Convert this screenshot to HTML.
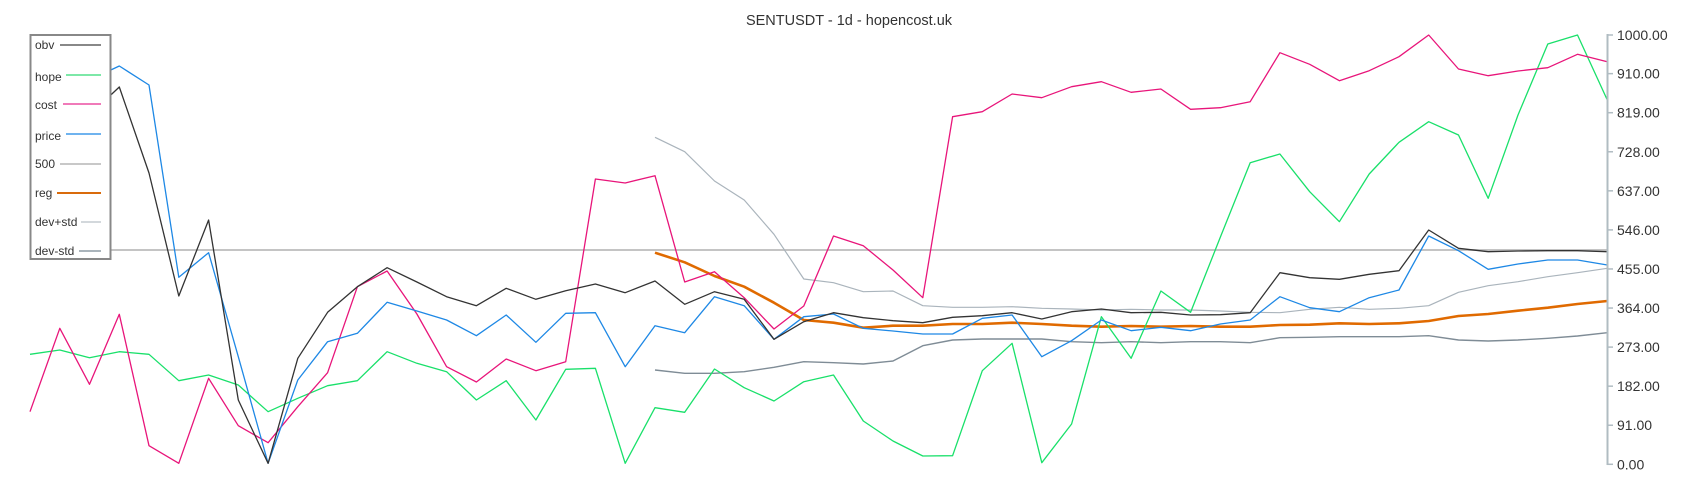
<!DOCTYPE html>
<html><head><meta charset="utf-8"><style>
html,body{margin:0;padding:0;background:#fff;}
svg{display:block;font-family:"Liberation Sans",sans-serif;}
</style></head><body>
<svg id="c" width="1700" height="500" viewBox="0 0 1700 500" xmlns="http://www.w3.org/2000/svg">
<rect width="1700" height="500" fill="#fff"/>
<text x="849" y="25" font-size="14.5" fill="#333" text-anchor="middle">SENTUSDT - 1d - hopencost.uk</text>
<line x1="30" y1="250" x2="1607" y2="250" stroke="#c4c4c4" stroke-width="2"/>
<g id="series"></g>
<g id="axis">
<line x1="1607.5" y1="34" x2="1607.5" y2="465" stroke="#b0bcc2" stroke-width="2"/>
</g>
<g id="legend">
<rect x="30.5" y="35" width="80" height="224" fill="#fff" stroke="#888" stroke-width="2"/>
<g font-size="12" fill="#333">
<text x="35" y="49">obv</text><line x1="60" y1="45" x2="101" y2="45" stroke="#888" stroke-width="2"/>
<text x="35" y="81">hope</text><line x1="66" y1="75" x2="101" y2="75" stroke="#7de8a8" stroke-width="2"/>
<text x="35" y="109">cost</text><line x1="63" y1="104" x2="101" y2="104" stroke="#f07ab9" stroke-width="2"/>
<text x="35" y="140">price</text><line x1="66" y1="134" x2="101" y2="134" stroke="#6fb3ef" stroke-width="2"/>
<text x="35" y="168">500</text><line x1="60" y1="164" x2="101" y2="164" stroke="#c8c8c8" stroke-width="2"/>
<text x="35" y="197">reg</text><line x1="57" y1="193" x2="101" y2="193" stroke="#d96b0c" stroke-width="2"/>
<text x="35" y="226">dev+std</text><line x1="81" y1="222" x2="101" y2="222" stroke="#d3d8dc" stroke-width="2"/>
<text x="35" y="255">dev-std</text><line x1="79" y1="251" x2="101" y2="251" stroke="#aab4bb" stroke-width="2"/>
</g>
</g>
</svg>
<script>
(function(){
var NS="http://www.w3.org/2000/svg";
function X(i){return 30+29.76*i;}
function poly(vals,start,color,w){
  var p=[];for(var k=0;k<vals.length;k++){p.push(X(start+k).toFixed(1)+","+vals[k]);}
  var e=document.createElementNS(NS,"polyline");
  e.setAttribute("points",p.join(" "));e.setAttribute("fill","none");
  e.setAttribute("stroke",color);e.setAttribute("stroke-width",w);
  e.setAttribute("stroke-linejoin","round");
  document.getElementById("series").appendChild(e);
}
var upper=[137.3,151.7,181,200,234.3,279,282.7,291.7,291,305.7,307.3,307.3,306.7,308.3,309,310,309.3,310,310,311,312.3,312.7,309.3,307.3,309.3,308.3,305.7,292.3,285.7,281.7,276.7,272.7,268.3];
var lower=[370,373.3,373.3,371.7,367.3,361.7,362.7,364,361,345.7,340,339,339,339,341.7,342.7,341.7,342.7,341.7,341.7,342.7,337.7,337.3,336.7,336.7,336.7,335.7,340,341,340,338.3,336,332.7];
var reg=[252.7,262.3,276,286.7,302.7,320,322.7,327.7,325.7,325.7,324,324,322.7,324,325.7,326.7,326,326.7,326,326.7,326.7,325,324.7,323.3,324,323.3,321,316,314,310.7,307.7,304,301];
var hope=[354.3,350,357.7,351.7,354.3,380.7,375,385,411.7,398.3,385.7,380.7,351.7,363.3,371.7,400,380.7,420,369.3,368.3,463.3,407.7,412.3,369,387.7,401,381.7,375,421,441,456,455.7,370.7,343.3,462.7,424,316.7,358.3,291,312.3,237,162.7,154,191.7,221.7,174,142.3,121.7,135,198.3,115,44,35,100];
var cost=[411.7,328.3,384.3,314.3,445.7,463.3,378.3,425.7,442.7,406.7,372.7,286.7,271,314,366.7,382,359,370.7,361.7,179,183,175.7,282,271.7,297.7,329,306,236,245.7,270,297.7,116.7,111.7,94,97.7,86.7,81.7,92.3,89,109.3,107.7,101.7,52.7,64.3,80.7,70.7,56.7,35,69,75.7,71,67.7,54.3,61.7];
var price=[100,90,80,66,85,277.3,252.7,356.7,463.3,380,341.7,333.3,302.3,311,320,335.7,315,342.3,313.3,312.7,366.7,325.7,332.7,296.7,305.7,339.3,316.7,314,328.3,331,334,334,318.3,315,356.7,340.7,320,330.7,327.3,330.7,324,320,296.7,307.7,311.7,297.7,290,236,250.7,269.3,264,260,260,265];
var obv=[150,130,115,87,173,296,220,400,463.3,358.3,312.3,286.7,267.7,282,296.7,305.7,288.3,299.3,290.7,284,292.7,281,304.3,291.7,299.3,339.3,321.7,312.7,317.7,320.7,322.7,317.3,315.7,312.7,319,311.7,309,312.7,312.3,315,314.7,312.7,272.7,277.7,279.3,274.3,270.7,230,248.3,251.7,251,250.7,250.7,251.7];
poly(upper,21,"#aab4bc",1.2);
poly(lower,21,"#7f8c96",1.4);
poly(reg,21,"#e06a00",2.6);
poly(hope,0,"#19e06a",1.3);
poly(cost,0,"#e8157a",1.3);
poly(price,0,"#1e88e5",1.3);
poly(obv,0,"#333333",1.3);
var ax=document.getElementById("axis");
var ticks=[1000,910,819,728,637,546,455,364,273,182,91,0];
ticks.forEach(function(v){
  var y=464.3-0.4293*v;
  var l=document.createElementNS(NS,"line");
  l.setAttribute("x1",1607);l.setAttribute("x2",1613);l.setAttribute("y1",y);l.setAttribute("y2",y);
  l.setAttribute("stroke","#b0bcc2");l.setAttribute("stroke-width",1.5);ax.appendChild(l);
  var t=document.createElementNS(NS,"text");
  t.setAttribute("x",1617);t.setAttribute("y",y+5);t.setAttribute("font-size","14");t.setAttribute("fill","#333");
  t.textContent=v.toFixed(2);ax.appendChild(t);
});
})();
</script>
</body></html>
